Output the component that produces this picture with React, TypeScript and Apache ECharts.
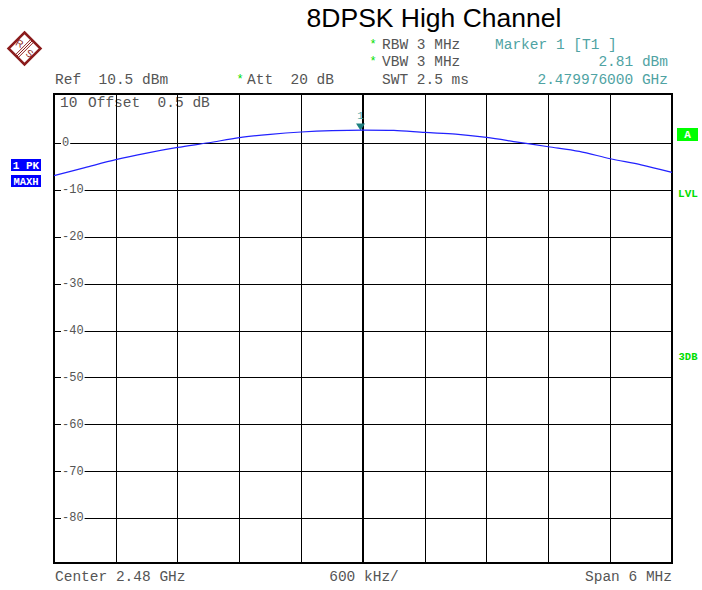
import React, { useEffect, useRef } from "react";
import * as echarts from "echarts";

// Frequency offset from center 2.48 GHz, in MHz
const freqOffsets = [-3.0, -2.7, -2.4, -2.1, -1.8, -1.5, -1.2, -0.9, -0.6, -0.3, 0.0, 0.3, 0.6, 0.9, 1.2, 1.5, 1.8, 2.1, 2.4, 2.7, 3.0];
// Trace level in dBm (max hold)
const traceLevels = [-6.9, -5.2, -3.5, -2.1, -0.9, 0.1, 1.2, 1.9, 2.4, 2.7, 2.81, 2.75, 2.3, 1.95, 1.25, 0.25, -0.75, -1.75, -3.3, -4.6, -6.2];
// Horizontal grid level labels
const gridLevels = [0, -10, -20, -30, -40, -50, -60, -70, -80];
// Marker 1
const markerFreq = -0.024;
const markerLevel = 2.81;

const MONO = "'Liberation Mono', 'DejaVu Sans Mono', monospace";
const SANS = "'Liberation Sans', Arial, sans-serif";
const GRAY = "#555555";
const TEAL = "#4fa3a3";
const GREEN = "#00dd00";
const LOGO = "#8b1c1c";

export default function App() {
  const ref = useRef<HTMLDivElement>(null);
  useEffect(() => {
    if (!ref.current) return;
    const chart = echarts.init(ref.current, null, { renderer: "svg" });
    const t = (text: string, x: number, y: number, fill = GRAY, align = "left", font = `14.5px ${MONO}`) => ({
      type: "text",
      x,
      y,
      style: { text, fill, font, textAlign: align, textVerticalAlign: "middle" },
    });
    const cx = 24.5, cy = 48.5, r = 16;
    const option: any = {
      animation: false,
      backgroundColor: "#fff",
      grid: { left: 54, right: 30, top: 94, bottom: 27, show: true, borderColor: "#000", borderWidth: 2, backgroundColor: "#fff" },
      xAxis: {
        type: "value",
        min: -3,
        max: 3,
        interval: 0.6,
        axisLine: { show: false },
        axisTick: { show: false },
        axisLabel: { show: false },
        splitLine: { show: true, lineStyle: { color: "#000", width: 1 } },
      },
      yAxis: {
        type: "value",
        min: -89.5,
        max: 10.5,
        axisLine: { show: false },
        axisTick: { show: false, customValues: gridLevels },
        axisLabel: {
          show: true,
          inside: true,
          customValues: gridLevels,
          margin: 7,
          color: "#555",
          fontFamily: MONO,
          fontSize: 12,
          backgroundColor: "#fff",
          padding: [0, 1],
          formatter: (v: number) => String(v),
        },
        splitLine: { show: true, lineStyle: { color: "#000", width: 1 } },
      },
      series: [
        {
          type: "line",
          data: freqOffsets.map((f, i) => [f, traceLevels[i]]),
          showSymbol: false,
          symbol: "none",
          smooth: 0.3,
          lineStyle: { color: "#2222ff", width: 1.2 },
          z: 5,
          markLine: {
            silent: true,
            symbol: "none",
            label: { show: false },
            lineStyle: { color: "#000", width: 2, type: "solid" },
            data: [{ xAxis: 0 }],
            z: 3,
          },
          markPoint: {
            silent: true,
            symbol: "triangle",
            symbolRotate: 180,
            symbolSize: [9, 7],
            symbolOffset: [0, -3],
            itemStyle: { color: "#1f8080" },
            label: { show: true, position: "top", distance: 2, formatter: "1", color: TEAL, fontFamily: MONO, fontSize: 11 },
            data: [{ coord: [markerFreq, markerLevel] }],
          },
        },
      ],
      graphic: [
        // Title
        { type: "text", x: 434, y: 18, style: { text: "8DPSK High Channel", fill: "#000", font: `26.5px ${SANS}`, textAlign: "center", textVerticalAlign: "middle" } },
        // Logo
        { type: "polygon", shape: { points: [[cx, cy - r], [cx + r, cy], [cx, cy + r], [cx - r, cy]] }, style: { fill: "none", stroke: LOGO, lineWidth: 2.5 } },
        { type: "line", shape: { x1: cx + 8 - 1.4, y1: cy - 8 - 1.4, x2: cx - 8 - 1.4, y2: cy + 8 - 1.4 }, style: { stroke: LOGO, lineWidth: 1 } },
        { type: "line", shape: { x1: cx + 8, y1: cy - 8, x2: cx - 8, y2: cy + 8 }, style: { stroke: LOGO, lineWidth: 1 } },
        { type: "line", shape: { x1: cx + 8 + 1.4, y1: cy - 8 + 1.4, x2: cx - 8 + 1.4, y2: cy + 8 + 1.4 }, style: { stroke: LOGO, lineWidth: 1 } },
        { type: "text", x: cx - 5, y: cy - 5, rotation: -0.5, style: { text: "R", fill: LOGO, font: `10px ${SANS}`, textAlign: "center", textVerticalAlign: "middle" } },
        { type: "text", x: cx + 5, y: cy + 5, rotation: -0.5, style: { text: "S", fill: LOGO, font: `10px ${SANS}`, textAlign: "center", textVerticalAlign: "middle" } },
        // Header rows
        t("*", 373, 45, GREEN, "center", `12px ${MONO}`),
        t("RBW 3 MHz", 382, 45),
        t("Marker 1 [T1 ]", 495, 45, TEAL),
        t("*", 373, 62, GREEN, "center", `12px ${MONO}`),
        t("VBW 3 MHz", 382, 62),
        t("2.81 dBm", 668, 62, TEAL, "right"),
        t("Ref  10.5 dBm", 55, 80),
        t("*", 240, 80, GREEN, "center", `12px ${MONO}`),
        t("Att  20 dB", 247, 80),
        t("SWT 2.5 ms", 382, 80),
        t("2.479976000 GHz", 668, 80, TEAL, "right"),
        // Inside top-left
        t("10", 60, 103),
        t("Offset  0.5 dB", 88, 103),
        // Bottom
        t("Center 2.48 GHz", 55, 577),
        t("600 kHz/", 364, 577, GRAY, "center"),
        t("Span 6 MHz", 672, 577, GRAY, "right"),
        // Left trace boxes
        { type: "rect", shape: { x: 11, y: 159, width: 30, height: 12 }, style: { fill: "#0000ff" } },
        t("1 PK", 26, 165.5, "#fff", "center", `bold 11px ${MONO}`),
        { type: "rect", shape: { x: 11, y: 175, width: 30, height: 12 }, style: { fill: "#0000ff" } },
        t("MAXH", 26, 181.5, "#fff", "center", `bold 10.5px ${MONO}`),
        // Right indicators
        { type: "rect", shape: { x: 677, y: 128, width: 21, height: 13 }, style: { fill: "#00ff00" } },
        t("A", 687.5, 135, "#fff", "center", `bold 11px ${MONO}`),
        t("LVL", 688, 194, GREEN, "center", `bold 11px ${MONO}`),
        t("3DB", 688, 357, GREEN, "center", `bold 10.5px ${MONO}`),
      ],
    };
    chart.setOption(option);
    return () => chart.dispose();
  }, []);
  return <div ref={ref} style={{ position: "fixed", left: 0, top: 0, width: 702, height: 590 }} />;
}
